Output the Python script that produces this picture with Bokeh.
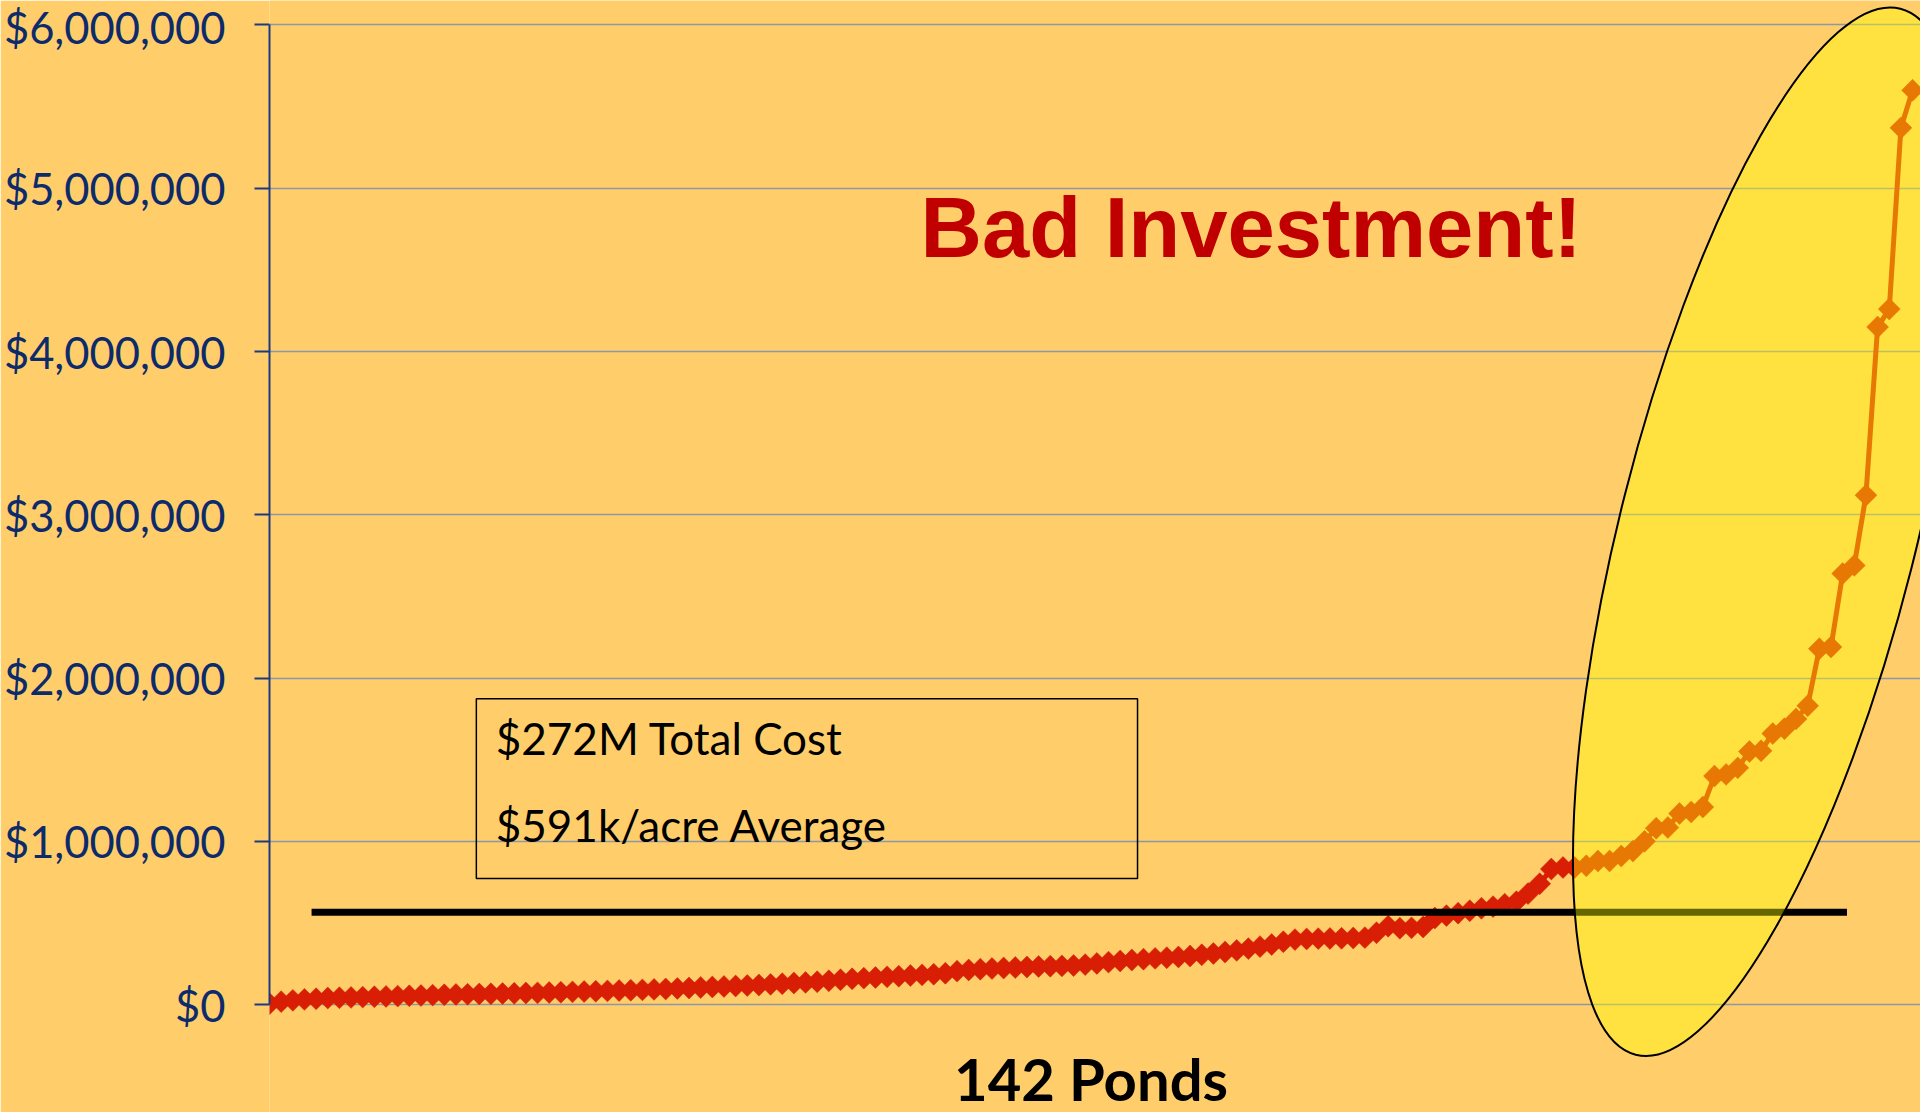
import numpy as np
from bokeh.plotting import figure
from bokeh.models import (Range1d, FixedTicker, NumeralTickFormatter, Label,
                          BoxAnnotation)
from bokeh.embed import file_html
from bokeh.resources import INLINE

# ---------------- data ----------------
ponds = list(range(1, 143))  # 142 ponds, sorted by cost per acre
cost_per_acre_musd = [
    0.005, 0.018, 0.026, 0.032, 0.036, 0.040, 0.042, 0.044, 0.046, 0.048,
    0.050, 0.052, 0.054, 0.056, 0.058, 0.060, 0.062, 0.063, 0.065, 0.066,
    0.068, 0.069, 0.071, 0.072, 0.074, 0.076, 0.078, 0.080, 0.082, 0.084,
    0.086, 0.088, 0.090, 0.093, 0.096, 0.099, 0.102, 0.105, 0.108, 0.111,
    0.114, 0.117, 0.120, 0.124, 0.128, 0.132, 0.136, 0.140, 0.146, 0.152,
    0.158, 0.162, 0.166, 0.170, 0.174, 0.178, 0.182, 0.186, 0.192, 0.205,
    0.212, 0.217, 0.221, 0.224, 0.227, 0.230, 0.233, 0.235, 0.237, 0.239,
    0.245, 0.252, 0.260, 0.267, 0.273, 0.278, 0.283, 0.287, 0.292, 0.298,
    0.305, 0.313, 0.322, 0.332, 0.343, 0.355, 0.368, 0.385, 0.398, 0.402,
    0.404, 0.405, 0.406, 0.408, 0.410, 0.440, 0.480, 0.468, 0.470, 0.475,
    0.530, 0.545, 0.560, 0.575, 0.590, 0.600, 0.615, 0.630, 0.680, 0.740,
    0.830, 0.840, 0.840, 0.850, 0.880, 0.880, 0.910, 0.940, 1.000, 1.080,
    1.085, 1.170, 1.180, 1.210, 1.400, 1.410, 1.450, 1.550, 1.555, 1.660,
    1.690, 1.750, 1.830, 2.180, 2.190, 2.640, 2.690, 3.120, 4.150, 4.260,
    5.370, 5.600,
]
cost_per_acre = [v * 1_000_000 for v in cost_per_acre_musd]

y_ticks = [0, 1_000_000, 2_000_000, 3_000_000, 4_000_000, 5_000_000, 6_000_000]

# average line (as drawn in the picture)
avg_line_ponds = [4.61, 136.37]
avg_line_value = [565_000, 565_000]

title_text = "Bad Investment!"
box_lines = ["$272M Total Cost", "$591k/acre Average"]
x_label = "142 Ponds"

# highlight ellipse (centre in data units)
ellipse_pond = [129.6]
ellipse_value = [2_896_500]

# ---------------- styling ----------------
BG = "#FFCE6B"
RED = "#D81E05"
NAVY = "#0D2B6B"

p = figure(width=1920, height=1112,
           x_range=Range1d(1, 142.68), y_range=Range1d(-660_900, 6_150_000),
           x_axis_location=None, output_backend="svg", toolbar_location=None,
           min_border_left=268, min_border_right=0, min_border_top=0,
           min_border_bottom=0, background_fill_color=BG,
           border_fill_color=BG, outline_line_color=None)

yaxis = p.yaxis[0]
yaxis.ticker = FixedTicker(ticks=y_ticks)
yaxis.formatter = NumeralTickFormatter(format="$0,0")
yaxis.bounds = (0, 6_000_000)
yaxis.axis_line_color = "#1B3A80"
yaxis.axis_line_width = 2
yaxis.major_tick_line_color = "#1B3A80"
yaxis.major_tick_line_width = 2
yaxis.major_tick_in = 0
yaxis.major_tick_out = 15
yaxis.minor_tick_line_color = None
yaxis.major_label_text_font = "Lato"
yaxis.major_label_text_font_size = "43.5px"
yaxis.major_label_text_color = NAVY
yaxis.major_label_standoff = 29

p.xgrid.visible = False
p.ygrid.grid_line_color = "#8E97A8"
p.ygrid.grid_line_width = 1.5

# series
p.line(ponds, cost_per_acre, line_color=RED, line_width=5)
p.scatter(ponds, cost_per_acre, marker="square", angle=np.pi / 4, size=15.5,
          fill_color=RED, line_color=RED, line_width=0.5)

# average line
p.line(avg_line_ponds, avg_line_value, line_color="black", line_width=7,
       line_cap="butt")

# translucent highlight ellipse
p.ellipse(x=ellipse_pond, y=ellipse_value, width=1079, height=296,
          width_units="screen", height_units="screen", angle=1.3230,
          fill_color="#FFFF00", fill_alpha=0.4, line_color="black",
          line_width=2)

# annotations
p.add_layout(Label(x=56.87, y=4_759_000, text=title_text,
                   text_font="Liberation Sans", text_font_style="bold",
                   text_font_size="85px", text_color="#C00000",
                   text_baseline="alphabetic"))

p.add_layout(BoxAnnotation(left=18.75, right=75.49, top=1_874_000,
                           bottom=772_000, fill_color=None, fill_alpha=0,
                           line_color="black", line_alpha=1.0,
                           line_width=1.5))
p.add_layout(Label(x=20.42, y=1_631_000, text=box_lines[0], text_font="Lato",
                   text_font_size="44px", text_color="black",
                   text_baseline="alphabetic"))
p.add_layout(Label(x=20.42, y=1_100_000, text=box_lines[1], text_font="Lato",
                   text_font_size="44px", text_color="black",
                   text_baseline="alphabetic"))

p.add_layout(Label(x=71.5, y=-455_000, text=x_label, text_font="Lato",
                   text_font_style="bold", text_font_size="58px",
                   text_color="black", text_align="center",
                   text_baseline="alphabetic"))

open("out.html", "w").write(file_html(p, INLINE))
